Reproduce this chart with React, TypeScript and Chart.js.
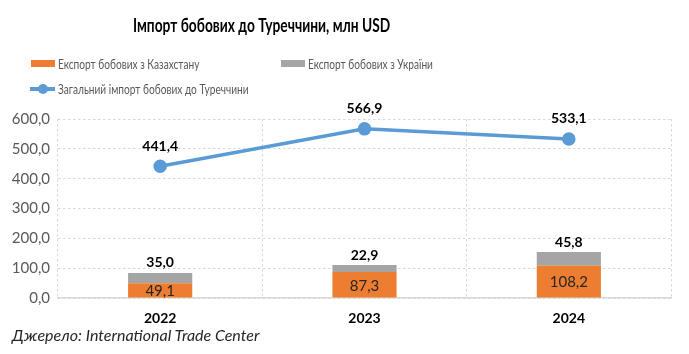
import React, { useEffect, useRef } from "react";
import { Chart, registerables } from "chart.js";

Chart.register(...registerables);

const years = ["2022", "2023", "2024"];
const kazakhstanExport = [49.1, 87.3, 108.2];
const ukraineExport = [35.0, 22.9, 45.8];
const totalImport = [441.4, 566.9, 533.1];

const titleText = "Імпорт бобових до Туреччини, млн USD";
const kzLabel = "Експорт бобових з Казахстану";
const uaLabel = "Експорт бобових з України";
const totalLabel = "Загальний імпорт бобових до Туреччини";
const sourceText = "Джерело: International Trade Center";

const ORANGE = "#ED7D31";
const GRAY = "#A5A5A5";
const BLUE = "#5B9BD5";
const FONT = "Lato, 'Open Sans', sans-serif";

const fmt = (v: number) => v.toFixed(1).replace(".", ",");

const labelsPlugin = {
  id: "valueLabels",
  afterDatasetsDraw(chart: any) {
    const ctx = chart.ctx;
    ctx.save();
    ctx.textAlign = "center";
    ctx.textBaseline = "middle";
    const m0 = chart.getDatasetMeta(0);
    ctx.font = `15px ${FONT}`;
    ctx.fillStyle = "#262626";
    m0.data.forEach((bar: any, i: number) => {
      ctx.fillText(fmt(kazakhstanExport[i]), bar.x, (bar.y + bar.base) / 2 + 1);
    });
    const m1 = chart.getDatasetMeta(1);
    ctx.font = `bold 14px ${FONT}`;
    ctx.fillStyle = "#000000";
    m1.data.forEach((bar: any, i: number) => {
      ctx.fillText(fmt(ukraineExport[i]), bar.x, bar.y - 10);
    });
    const m2 = chart.getDatasetMeta(2);
    m2.data.forEach((pt: any, i: number) => {
      ctx.fillText(fmt(totalImport[i]), pt.x, pt.y - 20);
    });
    ctx.restore();
  },
};

export default function App() {
  const ref = useRef<HTMLCanvasElement>(null);
  useEffect(() => {
    if (!ref.current) return;
    const chart = new Chart(ref.current, {
      type: "bar",
      data: {
        labels: years,
        datasets: [
          {
            type: "bar",
            label: kzLabel,
            data: kazakhstanExport,
            backgroundColor: ORANGE,
            stack: "bars",
            order: 2,
            barPercentage: 0.314,
            categoryPercentage: 1,
          },
          {
            type: "bar",
            label: uaLabel,
            data: ukraineExport,
            backgroundColor: GRAY,
            stack: "bars",
            order: 2,
            barPercentage: 0.314,
            categoryPercentage: 1,
          },
          {
            type: "line",
            label: totalLabel,
            data: totalImport,
            borderColor: BLUE,
            backgroundColor: BLUE,
            borderWidth: 3.5,
            pointRadius: 5,
            pointBackgroundColor: BLUE,
            pointBorderColor: BLUE,
            stack: "line",
            order: 1,
          } as any,
        ],
      },
      options: {
        responsive: false,
        animation: false,
        layout: { padding: { left: 0, right: 18, top: 119, bottom: 26 } },
        plugins: {
          legend: { display: false },
          title: { display: false },
          tooltip: { enabled: false },
        },
        scales: {
          x: {
            stacked: true,
            offset: true,
            grid: { display: true, color: "#D9D9D9", drawTicks: false, offset: true },
            border: { display: true, color: "#D9D9D9", width: 1.5, dash: [2.5, 2.5] },
            ticks: {
              padding: 12,
              color: "#000000",
              font: { family: FONT, size: 14, weight: "bold" },
            },
            afterFit: (s: any) => {
              s.height = 30;
            },
          },
          y: {
            stacked: true,
            min: 0,
            max: 600,
            grid: { color: "#D9D9D9", drawTicks: false },
            border: { display: false, dash: [2.5, 2.5] },
            ticks: {
              stepSize: 100,
              padding: 8,
              color: "#595959",
              font: { family: FONT, size: 15 },
              callback: (v: any) => fmt(Number(v)),
            },
            afterFit: (s: any) => {
              s.width = 58;
            },
          },
        },
      },
      plugins: [labelsPlugin],
    });
    return () => chart.destroy();
  }, []);

  const legendText: React.CSSProperties = {
    position: "absolute",
    fontFamily: FONT,
    fontSize: 13,
    color: "#595959",
    whiteSpace: "nowrap",
    transformOrigin: "left center",
    transform: "scaleX(0.78)",
    lineHeight: "16px",
  };

  return (
    <div
      style={{
        position: "fixed",
        left: 0,
        top: 0,
        width: 689,
        height: 354,
        background: "#fff",
        overflow: "hidden",
      }}
    >
      <canvas ref={ref} width={689} height={354} style={{ position: "absolute", left: 0, top: 0 }} />
      <div
        style={{
          position: "absolute",
          left: 133,
          top: 14,
          fontFamily: FONT,
          fontWeight: "bold",
          fontSize: 18,
          lineHeight: "22px",
          color: "#000",
          whiteSpace: "nowrap",
          transformOrigin: "left center",
          transform: "scaleX(0.765)",
        }}
      >
        {titleText}
      </div>
      <div style={{ position: "absolute", left: 31, top: 60, width: 24, height: 7, background: ORANGE }} />
      <div style={{ ...legendText, left: 58, top: 56 }}>{kzLabel}</div>
      <div style={{ position: "absolute", left: 281, top: 60, width: 24, height: 7, background: GRAY }} />
      <div style={{ ...legendText, left: 308, top: 56 }}>{uaLabel}</div>
      <div style={{ position: "absolute", left: 30, top: 87, width: 25, height: 3.5, background: BLUE }} />
      <div
        style={{
          position: "absolute",
          left: 38,
          top: 84,
          width: 10,
          height: 10,
          borderRadius: 5,
          background: BLUE,
        }}
      />
      <div style={{ ...legendText, left: 58, top: 81 }}>{totalLabel}</div>
      <div
        style={{
          position: "absolute",
          left: 12,
          top: 325,
          fontFamily: FONT,
          fontStyle: "italic",
          fontSize: 16,
          lineHeight: "20px",
          color: "#262626",
          whiteSpace: "nowrap",
        }}
      >
        {sourceText}
      </div>
    </div>
  );
}
